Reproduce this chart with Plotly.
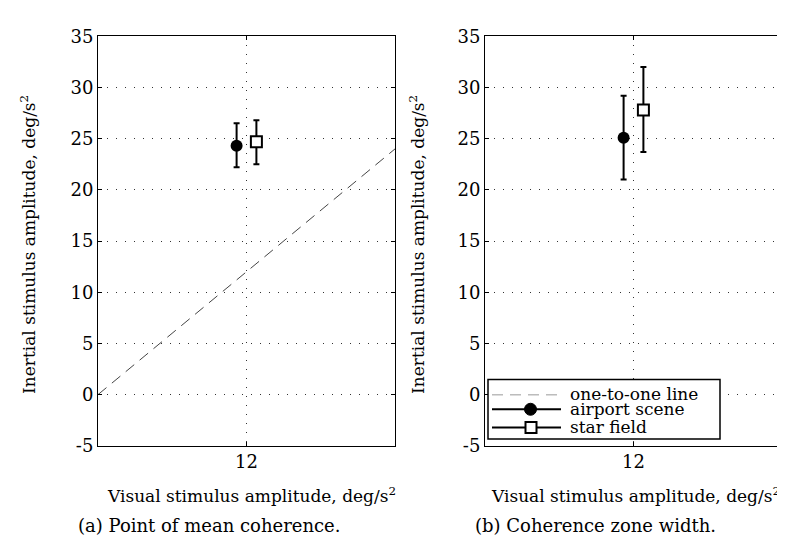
import plotly.graph_objects as go

# ---- data ----
x_center = 12
offset = 0.8
airport_a = 24.3; airport_a_lo = 22.2; airport_a_hi = 26.5
star_a = 24.7;    star_a_lo = 22.5;    star_a_hi = 26.8
airport_b = 25.1; airport_b_lo = 21.0; airport_b_hi = 29.2
star_b = 27.8;    star_b_lo = 23.7;    star_b_hi = 32.0
one_to_one_x = [0, 24]
y_tickvals = [-5, 0, 5, 10, 15, 20, 25, 30, 35]
y_ticktext = ["-5", "0", "5", "10", "15", "20", "25", "30", "35"]
x_tickvals = [12]
x_ticktext = ["12"]
legend_labels = ["one-to-one line", "airport scene", "star field"]

FONT = "DejaVu Serif"
FS = 18
TFS = 17
LFS = 17
W, H = 785, 542

fig = go.Figure()

def px_x(p):
    return p / W

def px_y(p):
    return (H - p) / H

def add_points(xa, ya, a, alo, ahi, s, slo, shi):
    fig.add_trace(go.Scatter(
        x=[x_center - offset], y=[a], mode="markers", xaxis=xa, yaxis=ya,
        name="airport scene", showlegend=False,
        marker=dict(symbol="circle", size=12, color="black"),
        error_y=dict(type="data", symmetric=False, array=[ahi - a], arrayminus=[a - alo],
                     color="black", thickness=2, width=3)))
    fig.add_trace(go.Scatter(
        x=[x_center + offset], y=[s], mode="markers", xaxis=xa, yaxis=ya,
        name="star field", showlegend=False,
        marker=dict(symbol="square", size=11, color="white", line=dict(color="black", width=2)),
        error_y=dict(type="data", symmetric=False, array=[shi - s], arrayminus=[s - slo],
                     color="black", thickness=2, width=3)))

fig.add_trace(go.Scatter(x=one_to_one_x, y=one_to_one_x, mode="lines", xaxis="x", yaxis="y",
                         name="one-to-one line", showlegend=False,
                         line=dict(color="#444", width=1, dash="11px,7px")))
add_points("x", "y", airport_a, airport_a_lo, airport_a_hi, star_a, star_a_lo, star_a_hi)
add_points("x2", "y2", airport_b, airport_b_lo, airport_b_hi, star_b, star_b_lo, star_b_hi)

ydom = [px_y(444), px_y(18)]
axis_common = dict(showline=True, linecolor="black", linewidth=1, mirror="ticks",
                   ticks="inside", ticklen=4, tickcolor="black", zeroline=False,
                   showgrid=True, gridcolor="#333", griddash="1px,8px", gridwidth=1,
                   tickfont=dict(family=FONT, size=FS, color="black"))
fig.update_layout(
    width=W, height=H, margin=dict(l=0, r=0, t=0, b=0),
    plot_bgcolor="white", paper_bgcolor="white",
    font=dict(family=FONT, size=FS, color="black"),
    xaxis=dict(domain=[px_x(90), px_x(387)], range=[0, 24], tickvals=x_tickvals, ticktext=x_ticktext,
               anchor="y", **axis_common),
    yaxis=dict(domain=ydom, range=[-5, 35], tickvals=y_tickvals, ticktext=y_ticktext,
               anchor="x", **axis_common),
    xaxis2=dict(domain=[px_x(477), px_x(774)], range=[0, 24], tickvals=x_tickvals, ticktext=x_ticktext,
                anchor="y2", **axis_common),
    yaxis2=dict(domain=ydom, range=[-5, 35], tickvals=y_tickvals, ticktext=y_ticktext,
                anchor="x2", **axis_common),
    showlegend=False,
)

# ---- manual legend (right panel) ----
shapes = [
    dict(type="rect", xref="paper", yref="paper", x0=px_x(480), x1=px_x(712), y0=px_y(437), y1=px_y(375),
         line=dict(color="black", width=1.5), fillcolor="white", layer="above"),
    dict(type="line", xref="paper", yref="paper", x0=px_x(484), x1=px_x(553), y0=px_y(391), y1=px_y(391),
         line=dict(color="#999", width=1, dash="11px,7px"), layer="above"),
    dict(type="line", xref="paper", yref="paper", x0=px_x(484), x1=px_x(553), y0=px_y(406), y1=px_y(406),
         line=dict(color="black", width=2), layer="above"),
    dict(type="circle", xref="paper", yref="paper", xsizemode="pixel", ysizemode="pixel",
         xanchor=px_x(522.5), yanchor=px_y(406), x0=-6, x1=6, y0=-6, y1=6,
         fillcolor="black", line=dict(color="black", width=1), layer="above"),
    dict(type="line", xref="paper", yref="paper", x0=px_x(484), x1=px_x(553), y0=px_y(425), y1=px_y(425),
         line=dict(color="black", width=2), layer="above"),
    dict(type="rect", xref="paper", yref="paper", xsizemode="pixel", ysizemode="pixel",
         xanchor=px_x(523), yanchor=px_y(425), x0=-5.5, x1=5.5, y0=-5.5, y1=5.5,
         fillcolor="white", line=dict(color="black", width=2), layer="above"),
]
fig.update_layout(shapes=shapes)

ytitle = "Inertial stimulus amplitude, deg/s<sup>2</sup>"
xtitle = "Visual stimulus amplitude, deg/s<sup>2</sup>"
ann = [
    dict(x=px_x(20), y=px_y(235), text=ytitle, textangle=-90, size=TFS),
    dict(x=px_x(409), y=px_y(235), text=ytitle, textangle=-90, size=TFS),
    dict(x=px_x(390), y=px_y(495), text=xtitle, xanchor="right", size=TFS),
    dict(x=px_x(774), y=px_y(495), text=xtitle, xanchor="right", size=TFS),
    dict(x=px_x(68), y=px_y(527), text="(a) Point of mean coherence.", xanchor="left"),
    dict(x=px_x(465), y=px_y(527), text="(b) Coherence zone width.", xanchor="left"),
    dict(x=px_x(560), y=px_y(390), text=legend_labels[0], xanchor="left", size=LFS),
    dict(x=px_x(560), y=px_y(406), text=legend_labels[1], xanchor="left", size=LFS),
    dict(x=px_x(560), y=px_y(424), text=legend_labels[2], xanchor="left", size=LFS),
]
for a in ann:
    size = a.pop("size", FS)
    d = dict(xref="paper", yref="paper", showarrow=False, font=dict(family=FONT, size=size, color="black"))
    d.setdefault("xanchor", "center")
    d.update(a)
    d.setdefault("yanchor", "middle")
    fig.add_annotation(**d)

fig.write_html("out.html")
